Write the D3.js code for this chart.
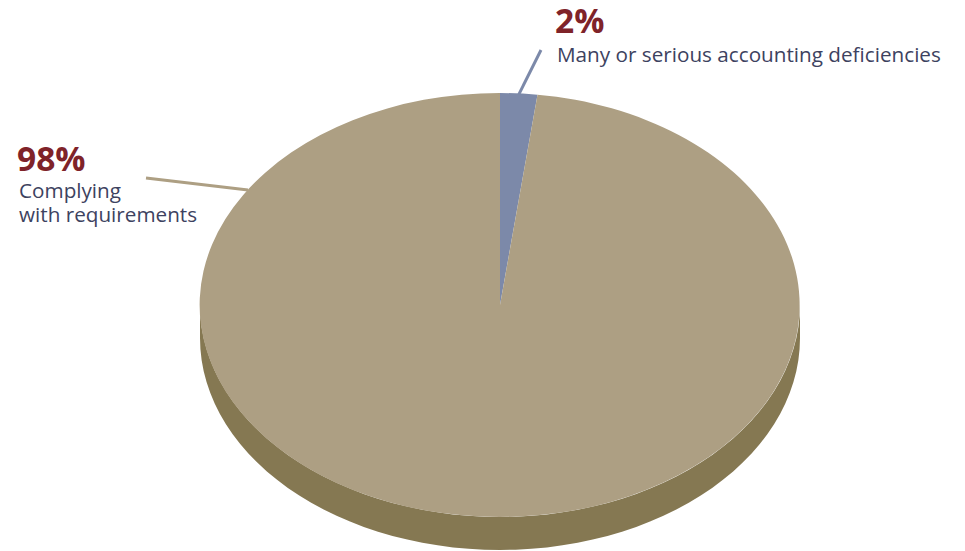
<!DOCTYPE html>
<html>
<head>
<meta charset="utf-8">
<script src="https://cdn.jsdelivr.net/npm/d3@7"></script>
<style>
  body { margin: 0; background: #fff; }
  svg { display: block; font-family: "Open Sans", sans-serif; }
</style>
</head>
<body>
<svg id="chart"></svg>
<script>
const categories = ["Many or serious accounting deficiencies", "Complying with requirements"];
const values = [2, 98];
const pctLabels = ["2%", "98%"];
const textLines = [["Many or serious accounting deficiencies"], ["Complying", "with requirements"]];

const width = 965, height = 551;
const cx = 500, cy = 305, rx = 300, ry = 212, depth = 33;
const topColors = ["#7c89a9", "#ad9f83"];
const sideColors = ["#5e6987", "#857852"];

const svg = d3.select("#chart").attr("width", width).attr("height", height);

const pie = d3.pie().sort(null).value(d => d)(values);

// point on the ellipse rim for a pie angle (0 = top, clockwise)
const rim = (a, dy = 0) => [cx + rx * Math.sin(a), cy - ry * Math.cos(a) + dy];

// side walls: only the front half (pi/2 .. 3pi/2) is visible
const side = svg.append("g");
pie.forEach((p, i) => {
  const a0 = Math.max(p.startAngle, Math.PI / 2);
  const a1 = Math.min(p.endAngle, 3 * Math.PI / 2);
  if (a1 <= a0) return;
  const steps = d3.range(0, 61).map(k => a0 + (a1 - a0) * k / 60);
  const pts = steps.map(a => rim(a)).concat(steps.slice().reverse().map(a => rim(a, depth)));
  side.append("path")
    .attr("d", d3.line()(pts) + "Z")
    .attr("fill", sideColors[i]);
});

// top face
const arc = d3.arc().innerRadius(0).outerRadius(1);
svg.append("g")
  .attr("transform", `translate(${cx},${cy}) scale(${rx},${ry})`)
  .selectAll("path")
  .data(pie)
  .join("path")
  .attr("d", arc)
  .attr("fill", (d, i) => topColors[i]);

// leader lines
const leaders = [
  {from: rim((pie[0].startAngle + pie[0].endAngle) / 2, 1), to: [541, 50]},
  {from: [248, 190], to: [146, 178]}
];
svg.append("g").selectAll("line")
  .data(leaders)
  .join("line")
  .attr("x1", d => d.from[0]).attr("y1", d => d.from[1])
  .attr("x2", d => d.to[0]).attr("y2", d => d.to[1])
  .attr("stroke", (d, i) => topColors[i])
  .attr("stroke-width", 3);

// labels
const labelPos = [{x: 555, y: 33, tx: 557, ty: 62}, {x: 17, y: 171, tx: 19, ty: 198}];
const labels = svg.append("g").selectAll("g")
  .data(pctLabels)
  .join("g");

labels.append("text")
  .attr("x", (d, i) => labelPos[i].x)
  .attr("y", (d, i) => labelPos[i].y)
  .attr("font-size", 33.5)
  .attr("font-weight", 700)
  .attr("fill", "#7f2329")
  .text(d => d);

labels.each(function(d, i) {
  textLines[i].forEach((line, j) => {
    d3.select(this).append("text")
      .attr("x", labelPos[i].tx)
      .attr("y", labelPos[i].ty + j * 24)
      .attr("font-size", 20.7)
      .attr("fill", "#3d4260")
      .text(line);
  });
});
</script>
</body>
</html>
